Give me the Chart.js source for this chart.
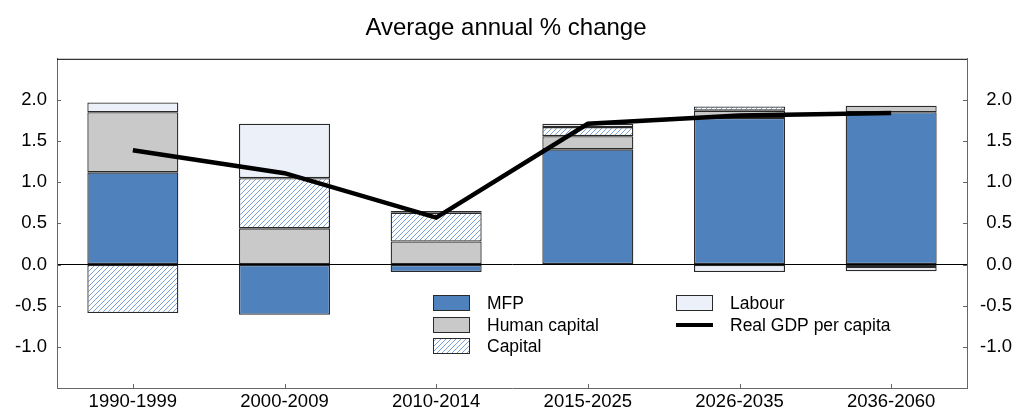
<!DOCTYPE html>
<html>
<head>
<meta charset="utf-8">
<script src="https://cdn.jsdelivr.net/npm/chart.js@4/dist/chart.umd.min.js"></script>
<style>
  html, body { margin: 0; padding: 0; background: #fff; }
  #wrap { width: 1017px; height: 410px; position: relative; }
</style>
</head>
<body>
<div id="wrap"><canvas id="chart"></canvas></div>
<script>
// Datos del gráfico
const categories = ['1990-1999', '2000-2009', '2010-2014', '2015-2025', '2026-2035', '2036-2060'];
const mfp = [1.12, -0.61, -0.09, 1.40, 1.78, 1.85];
const humanCapital = [0.73, 0.44, 0.28, 0.16, 0.09, 0.08];
const capital = [-0.59, 0.61, 0.35, 0.11, 0.05, -0.03];
const labour = [0.12, 0.66, 0.02, 0.04, -0.09, -0.05];
const realGdp = [1.39, 1.11, 0.57, 1.71, 1.81, 1.84];
const yTicks = [-1.0, -0.5, 0.0, 0.5, 1.0, 1.5, 2.0];

const FONT = '"Liberation Sans", Arial, sans-serif';
const BLUE = '#4f81bd';
const GREY = '#c9c9c9';
const LIGHT = '#ecf0f8';
const EDGE = '#2a2a2a';

// Patrón rayado para "Capital"
function makeHatch() {
    const size = 5;
    const c = document.createElement('canvas');
    c.width = size;
    c.height = size;
    const ctx = c.getContext('2d');
    ctx.fillStyle = '#fff';
    ctx.fillRect(0, 0, size, size);
    ctx.strokeStyle = '#79a1d8';
    ctx.lineWidth = 1;
    ctx.beginPath();
    ctx.moveTo(0, size); ctx.lineTo(size, 0);
    ctx.moveTo(-1, 1); ctx.lineTo(1, -1);
    ctx.moveTo(size - 1, size + 1); ctx.lineTo(size + 1, size - 1);
    ctx.stroke();
    return ctx.createPattern(c, 'repeat');
}
const hatch = makeHatch();

// Marco, marcas interiores y leyenda
const framePlugin = {
    id: 'frame',
    afterDatasetsDraw(chart) {
        const { ctx, chartArea: a, scales } = chart;
        ctx.save();
        ctx.lineWidth = 1;
        ctx.strokeStyle = '#000';
        ctx.beginPath();
        ctx.moveTo(a.left, a.top + 0.5);
        ctx.lineTo(a.right, a.top + 0.5);
        ctx.stroke();

        ctx.strokeStyle = '#666';
        ctx.beginPath();
        yTicks.forEach(v => {
            const y = Math.round(scales.y.getPixelForValue(v)) + 0.5;
            ctx.moveTo(a.left, y); ctx.lineTo(a.left + 4, y);
            ctx.moveTo(a.right - 4, y); ctx.lineTo(a.right, y);
        });
        categories.forEach((c, i) => {
            const x = Math.round(scales.x.getPixelForValue(i)) + 0.5;
            ctx.moveTo(x, a.bottom); ctx.lineTo(x, a.bottom - 4);
        });
        ctx.stroke();
        ctx.restore();
    },
    afterDraw(chart) {
        const { ctx } = chart;
        const ds = chart.data.datasets;
        const items = [
            { ds: ds[0], x: 433, y: 295 },
            { ds: ds[1], x: 433, y: 317 },
            { ds: ds[2], x: 433, y: 338 },
            { ds: ds[3], x: 676, y: 295 },
            { ds: ds[4], x: 676, y: 317 }
        ];
        ctx.save();
        ctx.font = '17.5px ' + FONT;
        ctx.textBaseline = 'middle';
        ctx.fillStyle = '#000';
        items.forEach(it => {
            if (it.ds.type === 'line') {
                ctx.strokeStyle = '#000';
                ctx.lineWidth = 4;
                ctx.beginPath();
                ctx.moveTo(it.x, it.y + 8);
                ctx.lineTo(it.x + 37, it.y + 8);
                ctx.stroke();
            } else {
                ctx.fillStyle = it.ds.backgroundColor;
                ctx.fillRect(it.x, it.y, 37, 16);
                ctx.strokeStyle = EDGE;
                ctx.lineWidth = 1;
                ctx.strokeRect(it.x + 0.5, it.y + 0.5, 36, 15);
            }
            ctx.fillStyle = '#000';
            ctx.fillText(it.ds.label, it.x + 54, it.y + 9);
        });
        ctx.restore();
    }
};

function barSet(label, data, color) {
    return {
        type: 'bar',
        label: label,
        data: data,
        backgroundColor: color,
        borderColor: EDGE,
        borderWidth: 1.3,
        borderSkipped: false,
        stack: 'a',
        order: 1
    };
}

new Chart(document.getElementById('chart'), {
    data: {
        labels: categories,
        datasets: [
            barSet('MFP', mfp, BLUE),
            barSet('Human capital', humanCapital, GREY),
            barSet('Capital', capital, hatch),
            barSet('Labour', labour, LIGHT),
            {
                type: 'line',
                label: 'Real GDP per capita',
                data: realGdp,
                borderColor: '#000',
                borderWidth: 4.5,
                pointRadius: 0,
                tension: 0,
                order: 0
            }
        ]
    },
    options: {
        responsive: true,
        maintainAspectRatio: false,
        animation: false,
        layout: { padding: { left: 0, right: 5, top: 0, bottom: 0 } },
        datasets: { bar: { barPercentage: 0.6, categoryPercentage: 1 } },
        plugins: {
            legend: { display: false },
            tooltip: { enabled: false },
            title: {
                display: true,
                text: 'Average annual % change',
                color: '#000',
                font: { family: FONT, size: 24, weight: 'normal' },
                padding: { top: 14, bottom: 16 }
            }
        },
        scales: {
            x: {
                stacked: true,
                grid: { display: false, drawTicks: false },
                border: { display: true, color: '#666' },
                ticks: { color: '#000', font: { family: FONT, size: 18.5 }, padding: 3, maxRotation: 0 },
                afterFit: s => { s.height = 22; }
            },
            y: {
                stacked: true,
                position: 'left',
                min: -1.5,
                max: 2.5,
                grid: {
                    drawTicks: false,
                    color: c => c.tick.value === 0 ? '#000' : 'rgba(0,0,0,0)'
                },
                border: { display: true, color: '#666' },
                ticks: {
                    stepSize: 0.5,
                    padding: 10,
                    color: '#000',
                    font: { family: FONT, size: 18.5 },
                    callback: v => (v < -1.01 || v > 2.01) ? '' : v.toFixed(1)
                },
                afterFit: s => { s.width = 57; }
            },
            y2: {
                position: 'right',
                min: -1.5,
                max: 2.5,
                grid: { display: false, drawTicks: false },
                border: { display: true, color: '#666' },
                ticks: {
                    stepSize: 0.5,
                    padding: 10,
                    crossAlign: 'far',
                    color: '#000',
                    font: { family: FONT, size: 18.5 },
                    callback: v => (v < -1.01 || v > 2.01) ? '' : v.toFixed(1)
                },
                afterFit: s => { s.width = 45; }
            }
        }
    },
    plugins: [framePlugin]
});
</script>
</body>
</html>
